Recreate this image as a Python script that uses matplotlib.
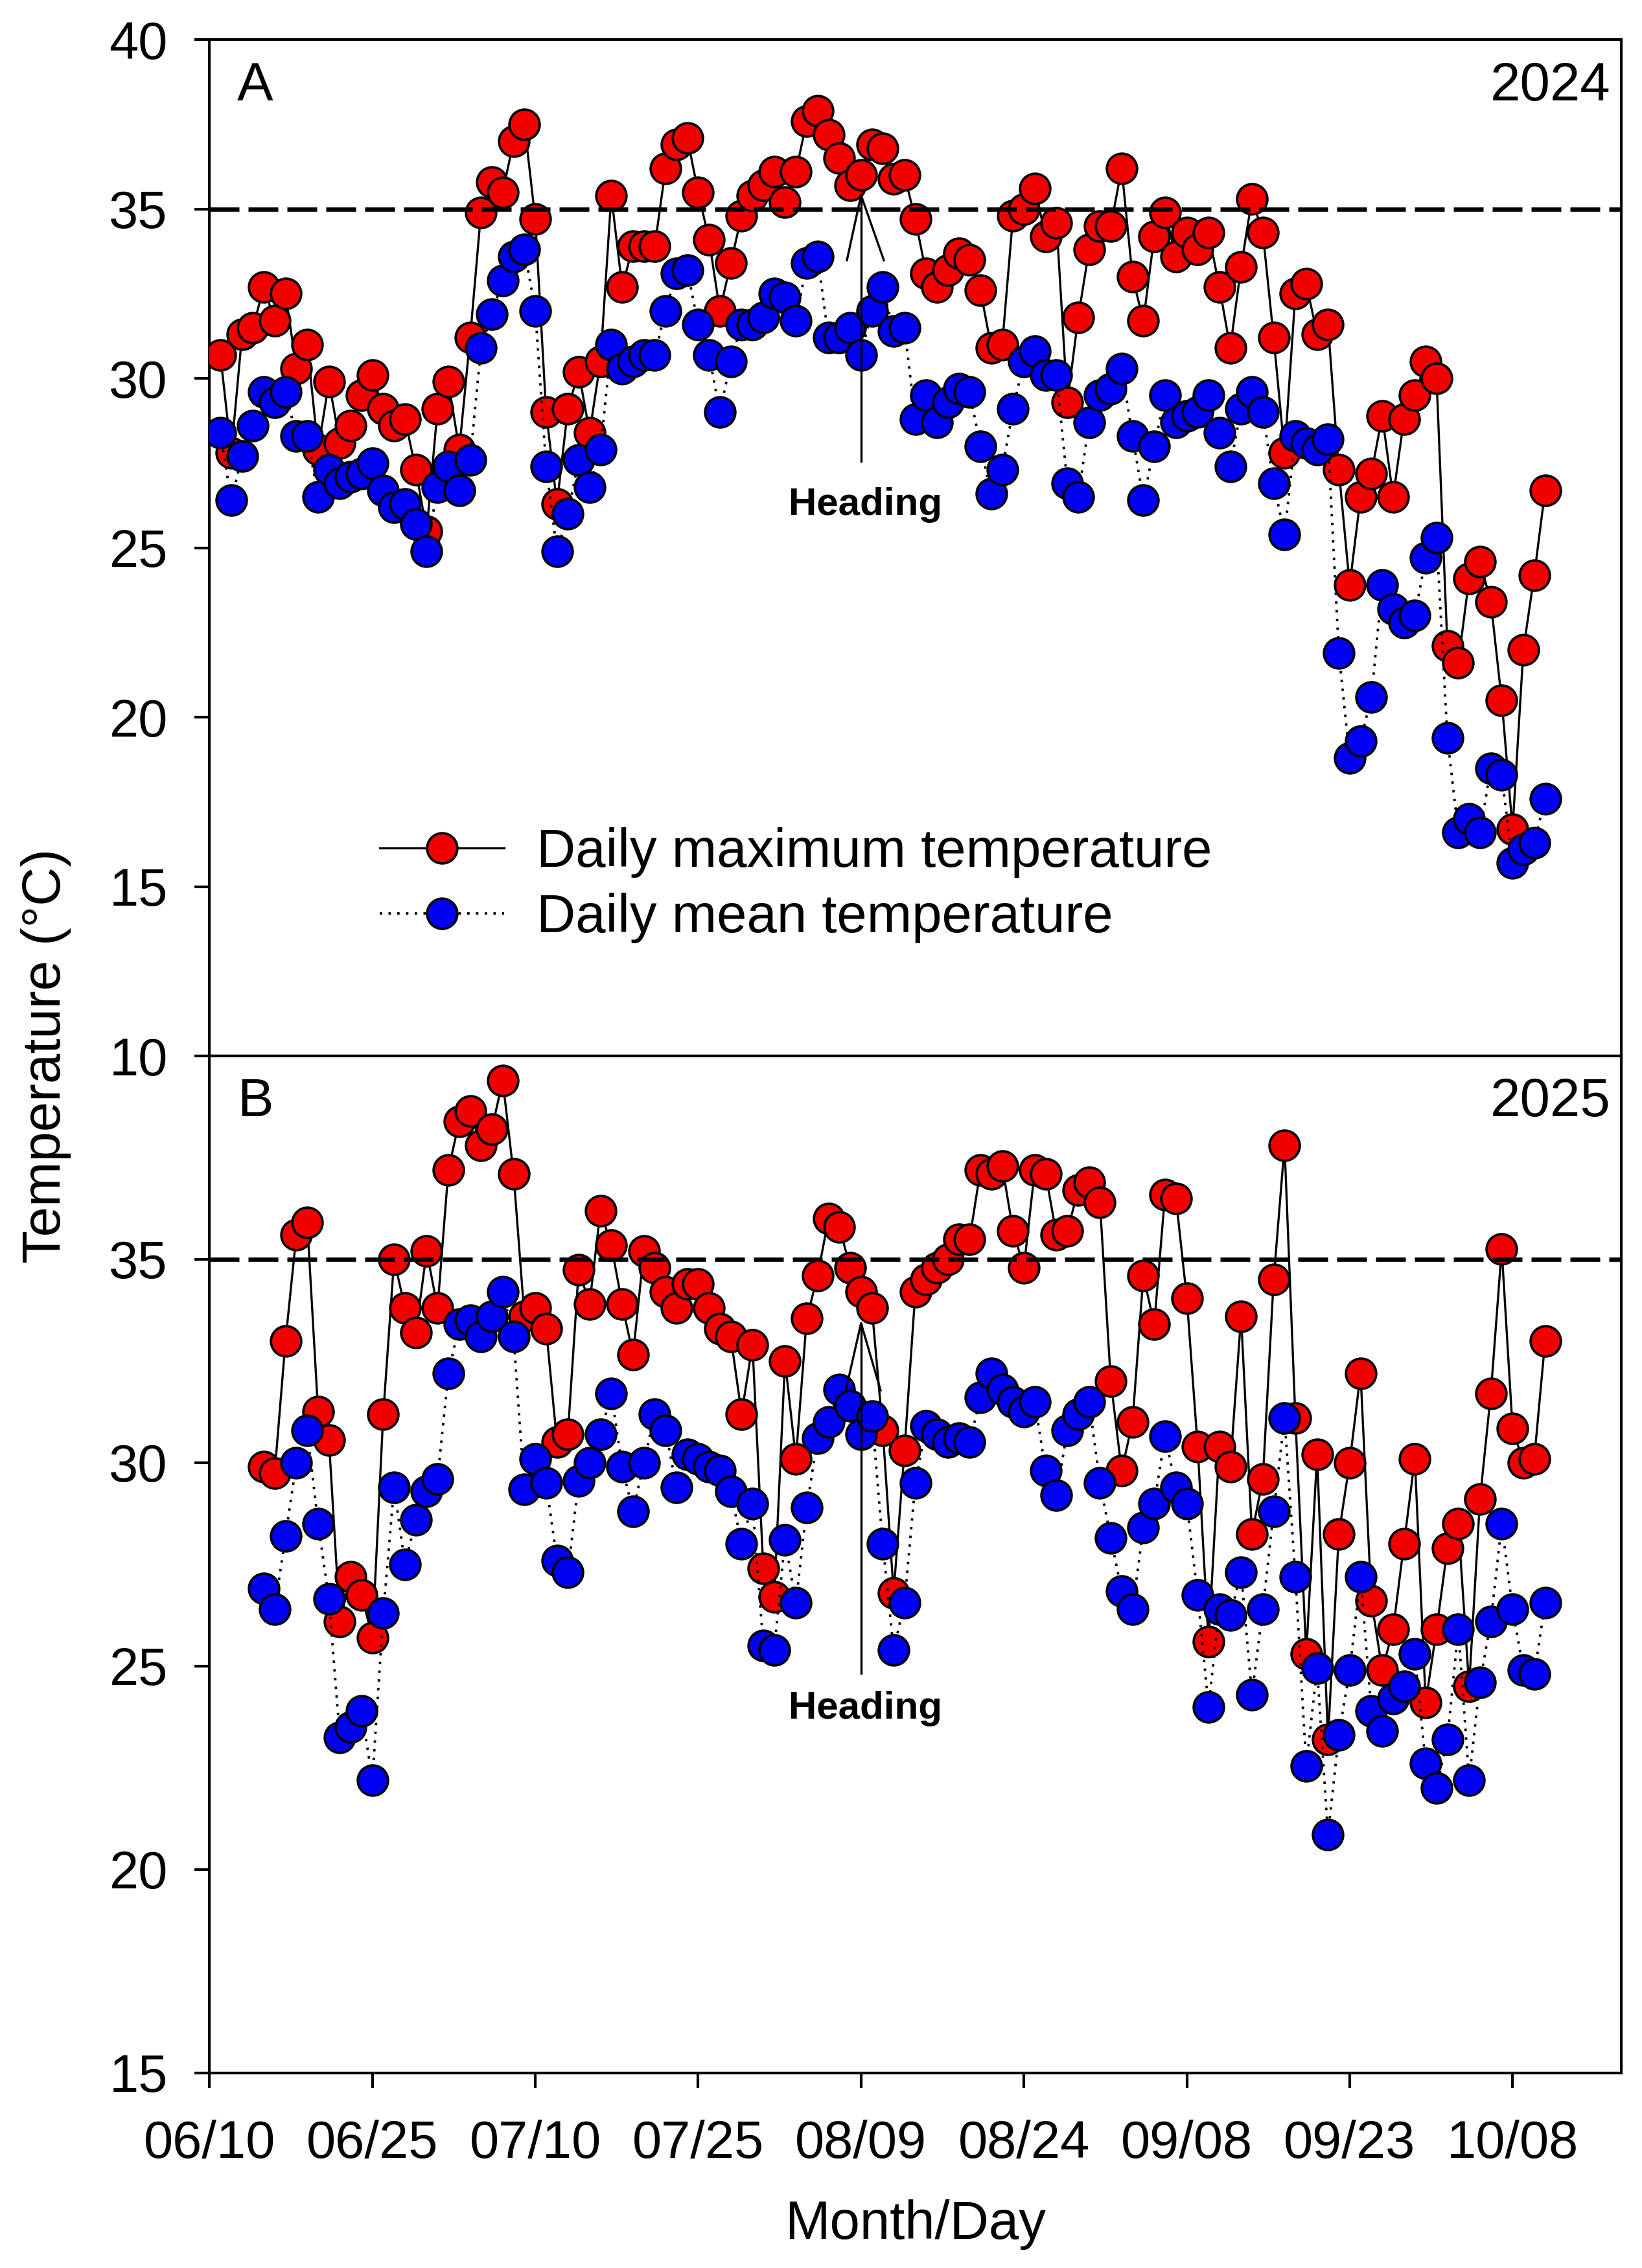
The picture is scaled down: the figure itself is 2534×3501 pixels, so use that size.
import numpy as np
import matplotlib.pyplot as plt

plt.rcParams['font.family'] = ['Liberation Sans', 'DejaVu Sans']

# x axis: days after 06/10
tick_days = [0, 15, 30, 45, 60, 75, 90, 105, 120]
tick_labels = ['06/10', '06/25', '07/10', '07/25', '08/09', '08/24', '09/08', '09/23', '10/08']

# 2024, daily from 06/11
max_2024 = [30.7, 27.8, 31.3, 31.5, 32.7, 31.7, 32.5, 30.3, 31.0, 27.9,
            29.9, 28.1, 28.6, 29.5, 30.1, 29.1, 28.6, 28.8, 27.3, 25.5,
            29.1, 29.9, 27.9, 31.2, 34.9, 35.8, 35.5, 37.0, 37.5, 34.7,
            29.0, 26.3, 29.1, 30.2, 28.4, 30.5, 35.4, 32.7, 33.9, 33.9,
            33.9, 36.2, 36.9, 37.1, 35.5, 34.1, 32.0, 33.4, 34.8, 35.4,
            35.7, 36.1, 35.2, 36.1, 37.6, 37.9, 37.2, 36.5, 35.7, 36.0,
            36.9, 36.8, 35.9, 36.0, 34.7, 33.1, 32.7, 33.2, 33.7, 33.5,
            32.6, 30.9, 31.0, 34.8, 35.0, 35.6, 34.2, 34.6, 29.3, 31.8,
            33.8, 34.5, 34.5, 36.2, 33.0, 31.7, 34.2, 34.9, 33.6, 34.3,
            33.8, 34.3, 32.7, 30.9, 33.3, 35.3, 34.3, 31.2, 27.8, 32.5,
            32.8, 31.3, 31.6, 27.3, 23.9, 26.5, 27.2, 28.9, 26.5, 28.8,
            29.5, 30.5, 30.0, 22.1, 21.6, 24.1, 24.6, 23.4, 20.5, 16.7,
            22.0, 24.2, 26.7]
mean_2024 = [28.4, 26.4, 27.7, 28.6, 29.6, 29.3, 29.6, 28.3, 28.3, 26.5,
             27.3, 26.9, 27.1, 27.2, 27.5, 26.7, 26.2, 26.3, 25.7, 24.9,
             26.8, 27.4, 26.7, 27.6, 30.9, 31.9, 32.9, 33.6, 33.8, 32.0,
             27.4, 24.9, 26.0, 27.6, 26.8, 27.9, 31.0, 30.3, 30.5, 30.7,
             30.7, 32.0, 33.1, 33.2, 31.6, 30.7, 29.0, 30.5, 31.6, 31.6,
             31.8, 32.5, 32.4, 31.7, 33.4, 33.6, 31.2, 31.2, 31.5, 30.7,
             32.0, 32.7, 31.4, 31.5, 28.8, 29.5, 28.7, 29.3, 29.7, 29.6,
             28.0, 26.6, 27.3, 29.1, 30.5, 30.8, 30.1, 30.1, 26.9, 26.5,
             28.7, 29.5, 29.7, 30.3, 28.3, 26.4, 28.0, 29.5, 28.7, 28.9,
             29.0, 29.5, 28.4, 27.4, 29.1, 29.6, 29.0, 26.9, 25.4, 28.3,
             28.1, 27.9, 28.2, 21.9, 18.8, 19.3, 20.6, 23.9, 23.2, 22.8,
             23.0, 24.7, 25.3, 19.4, 16.6, 17.0, 16.6, 18.5, 18.3, 15.7,
             16.1, 16.3, 17.6]
days_2024 = np.arange(1, len(max_2024) + 1)

# 2025, daily from 06/15
max_2025 = [29.9, 29.75, 33.0, 35.6, 35.9, 31.25,
            30.55, 26.1, 27.2, 26.75, 25.7, 31.2, 35.0, 33.8, 33.2, 35.2,
            33.8, 37.2, 38.4, 38.65, 37.8, 38.2, 39.4, 37.1, 33.6, 33.8,
            33.3, 30.5, 30.7, 34.75, 33.9, 36.2, 35.35, 33.9, 32.65, 35.2,
            34.8, 34.2, 33.8, 34.4, 34.4, 33.8, 33.3, 33.1, 31.2, 32.9,
            27.4, 26.7, 32.5, 30.1, 33.55, 34.6, 36.0, 35.8, 34.8, 34.2,
            33.8, 30.8, 26.8, 30.3, 34.2, 34.5, 34.8, 35.0, 35.5, 35.5,
            37.2, 37.1, 37.3, 35.7, 34.8, 37.2, 37.1, 35.6, 35.7, 36.7,
            36.9, 36.4, 32.0, 29.8, 31.0, 34.6, 33.4, 36.6, 36.5, 34.05,
            30.4, 25.6, 30.4, 29.9, 33.6, 28.25, 29.6, 34.5, 37.8, 31.1,
            25.3, 30.2, 23.2, 28.25, 30.0, 32.2, 26.6, 24.9, 25.9, 28.0,
            30.1, 24.1, 25.9, 27.9, 28.5, 24.5, 29.1, 31.7, 35.25, 30.85,
            30.0, 30.1, 33.0]
mean_2025 = [26.9, 26.4, 28.2, 30.0, 30.8, 28.5,
             26.65, 23.25, 23.5, 23.9, 22.2, 26.3, 29.4, 27.5, 28.6, 29.3,
             29.6, 32.2, 33.4, 33.5, 33.1, 33.6, 34.2, 33.1, 29.35, 30.1,
             29.5, 27.6, 27.3, 29.55, 30.0, 30.7, 31.7, 29.9, 28.8, 30.0,
             31.2, 30.8, 29.4, 30.2, 30.1, 29.9, 29.8, 29.3, 28.0, 29.0,
             25.5, 25.4, 28.1, 26.55, 28.9, 30.6, 31.0, 31.8, 31.4, 30.7,
             31.15, 28.0, 25.4, 26.55, 29.5, 30.9, 30.7, 30.5, 30.6, 30.5,
             31.6, 32.2, 31.8, 31.5, 31.25, 31.5, 29.8, 29.2, 30.8, 31.2,
             31.5, 29.5, 28.15, 26.85, 26.4, 28.4, 29.0, 30.65, 29.4, 29.0,
             26.75, 24.0, 26.4, 26.25, 27.3, 24.3, 26.4, 28.8, 31.1, 27.2,
             22.55, 24.95, 20.85, 23.3, 24.9, 27.2, 23.9, 23.4, 24.2, 24.5,
             25.3, 22.6, 22.0, 23.2, 25.9, 22.2, 24.6, 26.1, 28.5, 26.4,
             24.9, 24.8, 26.55]
days_2025 = np.arange(5, 5 + len(max_2025))

heading_day = 60
threshold = 35

red = '#F20000'
blue = '#0000F2'
fs = 19.5

fig = plt.figure(figsize=(2534 / 300, 3501 / 300), dpi=300)
axA = fig.add_axes([0.1276, 0.5344, 0.8597, 0.4481])
axB = fig.add_axes([0.1276, 0.0861, 0.8597, 0.4483])


def draw_panel(ax, days, tmax, tmean, ylim, yticks, letter, year, head):
    ax.plot(days, tmax, '-', color='black', lw=0.8, marker='o', ms=11.2,
            mfc=red, mec='black', mew=0.9, zorder=3,
            label='Daily maximum temperature')
    ax.plot(days, tmean, color='black', lw=0.9, dashes=(1, 2.6), marker='o',
            ms=11.2, mfc=blue, mec='black', mew=0.9, zorder=4,
            label='Daily mean temperature')
    ax.axhline(threshold, color='black', lw=1.6, dashes=(6.9, 2.1), zorder=5)

    # heading arrow and label
    base, tip, arm_y, arm_l, arm_r, text_y = head
    ax.plot([heading_day, heading_day], [base, tip], color='black', lw=0.8, zorder=6)
    ax.plot([arm_l, heading_day, arm_r], [arm_y, tip, arm_y], color='black', lw=0.8, zorder=6)
    ax.text(heading_day + 0.4, text_y, 'Heading', ha='center', va='baseline',
            fontsize=14.4, fontweight='bold', zorder=6)

    ax.set_xlim(0, 130)
    ax.set_ylim(*ylim)
    ax.set_yticks(yticks)
    ax.set_xticks(tick_days)
    ax.set_xticklabels(tick_labels)
    for s in ax.spines.values():
        s.set_linewidth(1.0)
    ax.tick_params(axis='y', direction='out', length=5.5, width=1.0,
                   labelsize=fs, pad=10)
    ax.tick_params(axis='x', direction='out', length=5.5, width=1.0,
                   labelsize=fs, pad=12)
    ax.text(0.0196, 0.9405, letter, transform=ax.transAxes, ha='left',
            va='baseline', fontsize=20)
    ax.text(0.9923, 0.9405, year, transform=ax.transAxes, ha='right',
            va='baseline', fontsize=20)


draw_panel(axA, days_2024, max_2024, mean_2024, (10, 40),
           [10, 15, 20, 25, 30, 35, 40], 'A', '2024',
           (27.56, 35.41, 33.49, 58.7, 62.1, 25.97))
draw_panel(axB, days_2025, max_2025, mean_2025, (15, 40),
           [15, 20, 25, 30, 35], 'B', '2025',
           (24.82, 33.43, 31.78, 58.6, 61.8, 23.71))

axA.tick_params(axis='x', bottom=False, labelbottom=False)

axA.legend(loc='center left', bbox_to_anchor=(0.1206, 0.168), frameon=False,
           fontsize=20, handlelength=2.3, handletextpad=0.6,
           labelspacing=0.28, borderpad=0, borderaxespad=0)

fig.text(0.0282, 0.5344, 'Temperature (°C)', rotation=90, ha='center',
         va='center', fontsize=20)
fig.text(0.5574, 0.01285, 'Month/Day', ha='center', va='baseline', fontsize=20)

fig.savefig('out.png', dpi=300)
